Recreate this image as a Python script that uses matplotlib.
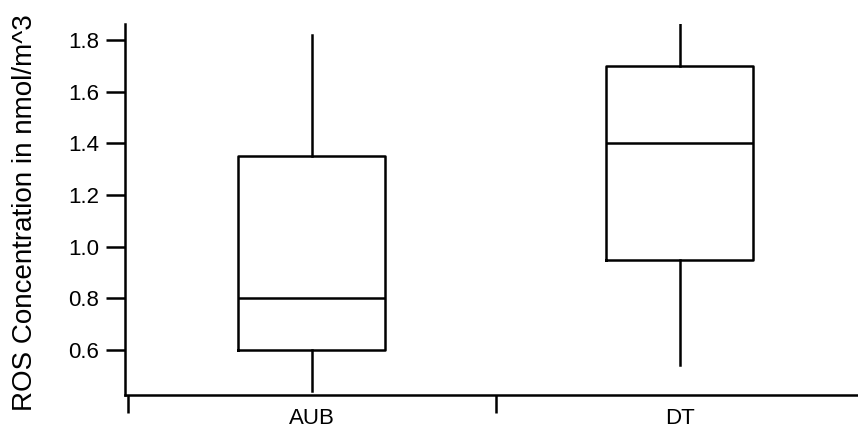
import matplotlib
matplotlib.use("Agg")
import matplotlib.pyplot as plt
from matplotlib.ticker import FixedLocator, NullFormatter

# box summary values (nmol/m^3)
categories = ["AUB", "DT"]
whisker_low = [0.443, 0.542]
q1 = [0.60, 0.95]
median = [0.80, 1.40]
q3 = [1.35, 1.70]
whisker_high = [1.82, 1.90]

yticks = [0.6, 0.8, 1.0, 1.2, 1.4, 1.6, 1.8]

plt.rcParams['font.family'] = ['Liberation Sans', 'DejaVu Sans']

fig = plt.figure(figsize=(8.58, 4.34), dpi=100)
ax = fig.add_axes([124.5/858, 1 - 394.5/434, 1 - 124.5/858, (394.5 - 24)/434])

stats = []
for i, name in enumerate(categories):
    stats.append(dict(label=name, whislo=whisker_low[i], q1=q1[i], med=median[i],
                      q3=q3[i], whishi=whisker_high[i], fliers=[]))

pos = [i + 0.5 for i in range(len(categories))]
lw = 1.8
ax.bxp(stats, positions=pos, widths=0.4, showcaps=False, showfliers=False,
       boxprops=dict(color='black', linewidth=lw),
       medianprops=dict(color='black', linewidth=lw),
       whiskerprops=dict(color='black', linewidth=lw))

ax.set_xlim(-0.009, 1.985)
ax.set_ylim(0.428, 1.862)

# category boundaries as major ticks, names centred on minor ticks
ax.xaxis.set_major_locator(FixedLocator([0, 1, 2]))
ax.xaxis.set_major_formatter(NullFormatter())
ax.xaxis.set_minor_locator(FixedLocator(pos))
ax.set_xticklabels(categories, minor=True)
ax.tick_params(axis='x', which='major', direction='out', length=13, width=lw)
ax.tick_params(axis='x', which='minor', length=0, pad=10, labelsize=16)

ax.set_yticks(yticks)
ax.set_yticklabels([f"{v:.1f}" for v in yticks])
ax.tick_params(axis='y', direction='out', length=13.5, width=lw, pad=5, labelsize=16)

for side in ['top', 'right']:
    ax.spines[side].set_visible(False)
for side in ['left', 'bottom']:
    ax.spines[side].set_linewidth(lw)

ax.set_ylabel("ROS Concentration in nmol/m^3", fontsize=20)
ax.yaxis.set_label_coords(-0.118, 0.49)

fig.savefig("out.png", dpi=100)
